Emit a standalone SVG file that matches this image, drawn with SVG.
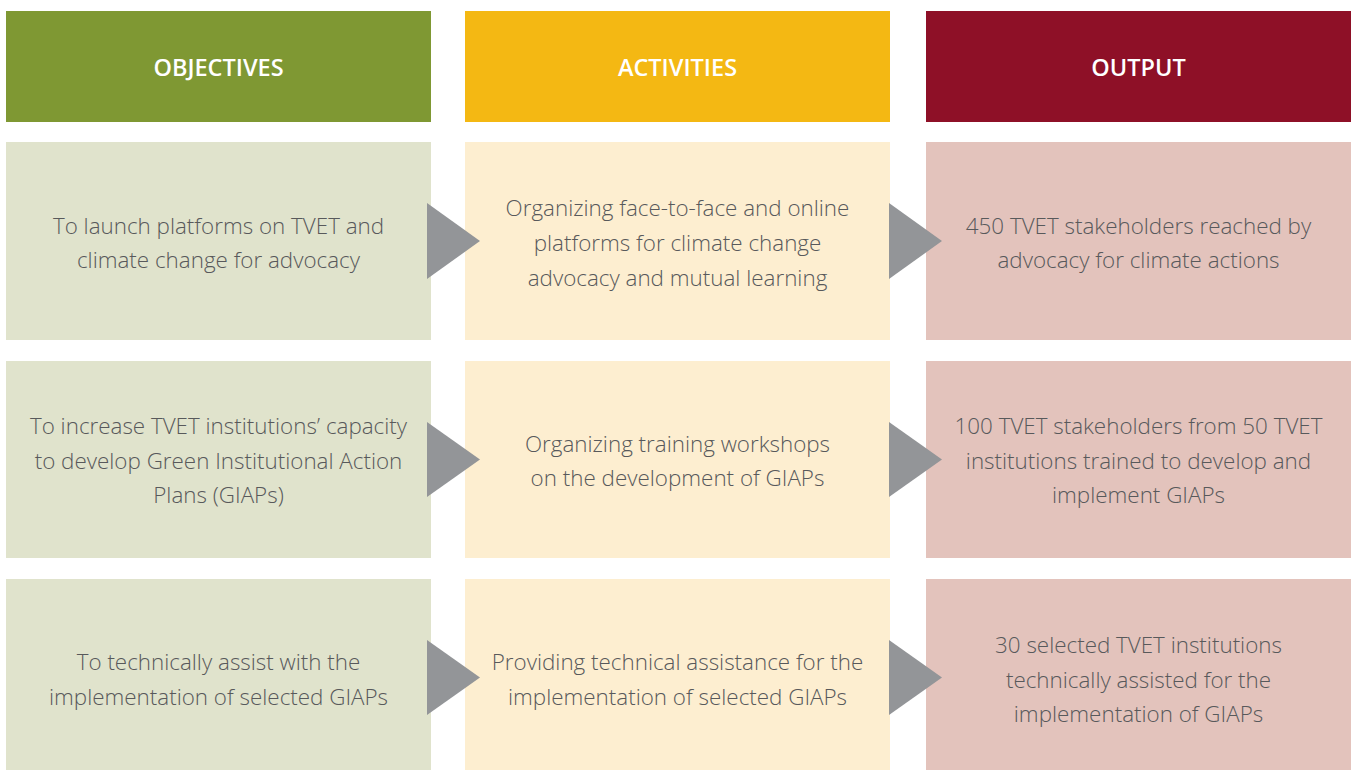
<svg xmlns="http://www.w3.org/2000/svg" width="1354" height="770" viewBox="0 0 1354 770">
<style>
.hd{font-family:"Open Sans","Liberation Sans",sans-serif;font-weight:600;font-size:23.5px;fill:#ffffff;text-anchor:middle}
.tx{font-family:"Open Sans","Liberation Sans",sans-serif;font-weight:300;font-size:22.4px;fill:#58595b;text-anchor:middle}
.g{fill:#e0e3cc}.y{fill:#fdeed0}.r{fill:#e3c3bc}
.arr{fill:#939598}
</style>
<rect width="1354" height="770" fill="#ffffff"/>
<g id="hdr-objectives"><rect x="6" y="11" width="425" height="111" fill="#7f9833"/><text class="hd" x="218.5" y="76">OBJECTIVES</text></g>
<g id="hdr-activities"><rect x="465" y="11" width="425" height="111" fill="#f4b813"/><text class="hd" x="677.5" y="76">ACTIVITIES</text></g>
<g id="hdr-output"><rect x="926" y="11" width="425" height="111" fill="#8e1027"/><text class="hd" x="1138.5" y="76">OUTPUT</text></g>

<g id="obj1"><rect class="g" x="6" y="142" width="425" height="198"/><text class="tx" x="218.5" y="234">To launch platforms on TVET and</text><text class="tx" x="218.5" y="268">climate change for advocacy</text></g>
<g id="act1"><rect class="y" x="465" y="142" width="425" height="198"/><text class="tx" x="677.5" y="216">Organizing face-to-face and online</text><text class="tx" x="677.5" y="251">platforms for climate change</text><text class="tx" x="677.5" y="286">advocacy and mutual learning</text></g>
<g id="out1"><rect class="r" x="926" y="142" width="425" height="198"/><text class="tx" x="1138.5" y="234">450 TVET stakeholders reached by</text><text class="tx" x="1138.5" y="268">advocacy for climate actions</text></g>

<g id="obj2"><rect class="g" x="6" y="361" width="425" height="197"/><text class="tx" x="218.5" y="434">To increase TVET institutions’ capacity</text><text class="tx" x="218.5" y="469">to develop Green Institutional Action</text><text class="tx" x="218.5" y="503">Plans (GIAPs)</text></g>
<g id="act2"><rect class="y" x="465" y="361" width="425" height="197"/><text class="tx" x="677.5" y="452">Organizing training workshops</text><text class="tx" x="677.5" y="486">on the development of GIAPs</text></g>
<g id="out2"><rect class="r" x="926" y="361" width="425" height="197"/><text class="tx" x="1138.5" y="434">100 TVET stakeholders from 50 TVET</text><text class="tx" x="1138.5" y="469">institutions trained to develop and</text><text class="tx" x="1138.5" y="503">implement GIAPs</text></g>

<g id="obj3"><rect class="g" x="6" y="579" width="425" height="197"/><text class="tx" x="218.5" y="670">To technically assist with the</text><text class="tx" x="218.5" y="705">implementation of selected GIAPs</text></g>
<g id="act3"><rect class="y" x="465" y="579" width="425" height="197"/><text class="tx" x="677.5" y="670">Providing technical assistance for the</text><text class="tx" x="677.5" y="705">implementation of selected GIAPs</text></g>
<g id="out3"><rect class="r" x="926" y="579" width="425" height="197"/><text class="tx" x="1138.5" y="653">30 selected TVET institutions</text><text class="tx" x="1138.5" y="688">technically assisted for the</text><text class="tx" x="1138.5" y="722">implementation of GIAPs</text></g>

<g id="connectors">
<polygon class="arr" points="427,203 480,241 427,279"/>
<polygon class="arr" points="889,203 942,241 889,279"/>
<polygon class="arr" points="427,422 480,459.5 427,497"/>
<polygon class="arr" points="889,422 942,459.5 889,497"/>
<polygon class="arr" points="427,640 480,677.5 427,715"/>
<polygon class="arr" points="889,640 942,677.5 889,715"/>
</g>
</svg>
